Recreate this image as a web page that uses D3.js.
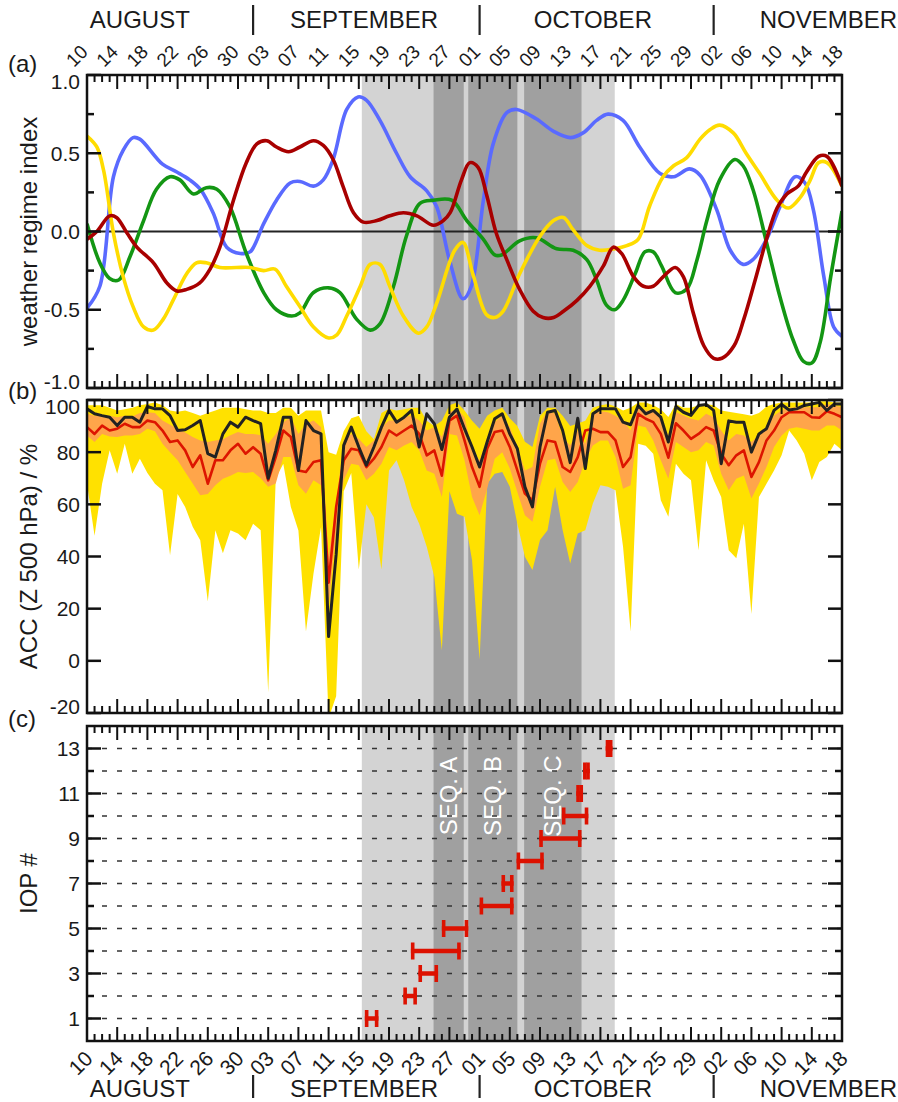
<!DOCTYPE html>
<html><head><meta charset="utf-8">
<script src="https://cdn.jsdelivr.net/npm/d3@7"></script>
<style>
body{margin:0;background:#fff}
svg{display:block}
text{font-family:"Liberation Sans",Arial,Helvetica,sans-serif;fill:#1a1a1a}
</style></head><body>
<svg id="chart" width="898" height="1102"></svg>
<script>
// ---------------- data ----------------
// days counted from 10 August
const dayTickLabels = ["10","14","18","22","26","30","03","07","11","15","19","23","27","01","05","09","13","17","21","25","29","02","06","10","14","18"];
const monthNames = ["AUGUST","SEPTEMBER","OCTOBER","NOVEMBER"];
const monthLabelDays = [7, 36.7, 67, 98.2];
const monthStartDays = [22, 52, 83];

const periodSpan = [36.4, 69.9];
const seqNames = ["SEQ. A","SEQ. B","SEQ. C"];
const seqStart = [45.9, 50.5, 57.9];
const seqEnd   = [49.9, 57.0, 65.5];

// (a) weather regime indices  [day, value]
const regimeBlue = [[0,-0.49],[1.7,-0.35],[3.5,0.35],[4.8,0.52],[6.1,0.60],[7,0.59],[10,0.43],[11.9,0.38],[13.6,0.33],[15,0.27],[16.7,0.12],[18.5,-0.10],[20.3,-0.14],[21.6,-0.13],[23.4,0.05],[25.1,0.20],[26.9,0.31],[28.2,0.32],[30,0.29],[31.3,0.33],[32.6,0.46],[34.4,0.78],[35.9,0.86],[37,0.84],[38.8,0.71],[41,0.50],[42.8,0.35],[45,0.26],[46.3,0.16],[48,-0.18],[49.8,-0.43],[50.9,-0.35],[52.5,0.20],[53.8,0.56],[55.6,0.76],[56.9,0.78],[59.5,0.72],[61.8,0.64],[64,0.60],[65.7,0.63],[67.5,0.71],[69,0.75],[71,0.71],[73.2,0.54],[75.9,0.37],[77.7,0.35],[79.8,0.40],[81.2,0.36],[83.4,0.14],[85.2,-0.12],[86.9,-0.21],[88.2,-0.18],[90,-0.05],[91.8,0.16],[93.8,0.35],[95.1,0.31],[96.2,0.14],[97.6,-0.29],[98.9,-0.61],[100,-0.67]];
const regimeGreen = [[0,0.05],[1.7,-0.20],[3,-0.30],[4.2,-0.31],[5.7,-0.16],[7.5,0.07],[9.2,0.27],[11,0.35],[12.3,0.33],[14.1,0.24],[15.8,0.28],[17.2,0.27],[18.9,0.16],[21.1,-0.14],[23.4,-0.39],[25.1,-0.50],[27.1,-0.54],[28.2,-0.52],[30,-0.39],[32,-0.36],[33.5,-0.39],[35.7,-0.56],[37.5,-0.63],[38.8,-0.59],[40.6,-0.35],[42.3,-0.03],[44.1,0.18],[45.9,0.20],[48.3,0.20],[50.3,0.07],[52.5,-0.05],[54,-0.15],[54.9,-0.15],[57.3,-0.06],[59.5,-0.04],[62.2,-0.11],[64.4,-0.12],[66.2,-0.18],[67.5,-0.31],[68.8,-0.47],[69.9,-0.50],[71,-0.44],[72.6,-0.27],[73.9,-0.13],[75,-0.13],[76.1,-0.22],[77.9,-0.39],[79.4,-0.37],[80.8,-0.18],[82.1,0.07],[83.8,0.33],[85.8,0.46],[86.9,0.42],[88.2,0.27],[90,-0.07],[91.8,-0.42],[93.5,-0.69],[94.9,-0.83],[96,-0.84],[97.1,-0.71],[98.5,-0.29],[100,0.13]];
const regimeYellow = [[0,0.61],[1.3,0.54],[2.2,0.39],[3.5,-0.01],[4.8,-0.29],[6.1,-0.48],[7.5,-0.61],[8.8,-0.63],[10.1,-0.56],[11.4,-0.44],[13.2,-0.27],[14.5,-0.20],[15.8,-0.20],[17.6,-0.23],[19.8,-0.23],[21.6,-0.23],[23.4,-0.25],[24.9,-0.24],[26.4,-0.35],[28.2,-0.48],[30,-0.61],[32,-0.68],[33.1,-0.66],[34.4,-0.54],[36.2,-0.35],[37.5,-0.21],[38.8,-0.21],[40.1,-0.35],[41.9,-0.54],[43.9,-0.65],[45,-0.61],[46.3,-0.46],[48.7,-0.12],[49.8,-0.07],[51.1,-0.27],[52.9,-0.53],[54,-0.55],[55.1,-0.51],[57.3,-0.27],[60,-0.03],[61.8,0.07],[63.1,0.09],[64.4,0.01],[66.2,-0.09],[67.9,-0.12],[69.9,-0.11],[71.5,-0.09],[73,-0.05],[74.5,0.16],[76.3,0.35],[77.7,0.42],[79.4,0.47],[81.2,0.59],[82.5,0.65],[83.8,0.68],[85.6,0.63],[87.3,0.50],[89.1,0.37],[91.4,0.20],[92.9,0.15],[94.5,0.22],[95.8,0.33],[96.9,0.44],[98,0.44],[100,0.29]];
const regimeRed = [[0,-0.05],[1.3,0],[3,0.10],[3.9,0.09],[5.3,-0.01],[6.6,-0.10],[8.8,-0.20],[10.6,-0.33],[11.9,-0.38],[13.2,-0.37],[14.9,-0.33],[16.3,-0.24],[17.6,-0.10],[19.4,0.20],[21.1,0.44],[22.5,0.56],[23.8,0.58],[25.1,0.54],[26.7,0.51],[28.2,0.54],[30,0.58],[31.3,0.55],[32.6,0.46],[33.9,0.29],[35.3,0.12],[36.6,0.06],[38.4,0.07],[40.1,0.10],[41.9,0.12],[43.7,0.10],[45.9,0.04],[47.2,0.07],[48.1,0.12],[49.6,0.33],[50.7,0.44],[51.8,0.41],[52.9,0.24],[54.2,-0.01],[55.6,-0.18],[57.3,-0.37],[59.1,-0.51],[60.4,-0.55],[61.8,-0.55],[63.1,-0.51],[64.9,-0.44],[66.6,-0.35],[68.4,-0.22],[69.7,-0.10],[70.8,-0.14],[72.4,-0.29],[73.7,-0.35],[75,-0.35],[76.3,-0.29],[77.9,-0.23],[79,-0.29],[80.3,-0.52],[81.7,-0.73],[83,-0.81],[84.1,-0.81],[85.7,-0.73],[87,-0.56],[88.5,-0.31],[90,-0.05],[91.4,0.15],[92.7,0.24],[94.2,0.29],[95.3,0.38],[96.9,0.48],[98,0.48],[100,0.29]];
const regimeTicks = [-1,-0.5,0,0.5,1];
const regimeTickLabels = ["-1.0","-0.5","0.0","0.5","1.0"];

// (b) ACC (Z 500 hPa) in %, one value per day (day 0 .. 100)
const accYellowHi = [98,98,98,97,96,96.5,97,98,98.5,99,98,96,95.5,96,95,94,95,96,97,97,97,96.5,96,96,95,
 95,97,97,94,96,96,96,80,79,88,93,94,88,85,95,96.6,96,96.5,97,97,92,90,92,98,
 99,96,92,89,94,96,97,93,90,84,82,94,97,97,94,90,91,92,97,98,98.5,97.5,96,97,99,99,
 98,96.5,93.5,98.5,97,97,98,98.5,98,96,95.5,95,94.5,94,95,97.5,98.5,99,99,99,99,99,99.5,99.5,99,99];
const accYellowLo = [67.9,48,67.9,80.7,71.7,83.2,71.7,77.5,72,67.9,65.4,40.5,64,59,51.4,46.2,22.7,50.1,41.2,50.1,48.8,46.2,52.6,50.1,-12,
 70,75.6,59,50,11.2,33.5,51.4,-22,-13.6,65,72,35,60,55,35,73,76.9,69.2,59,52.6,43.7,32.2,4,65,
 56.4,55.2,38.6,0.4,67.9,71.7,72.4,66.7,52.6,39.9,34.8,46.3,50.1,66.7,50.1,37.3,48.8,50.1,60.3,67.3,66.7,65.4,43.7,11.2,83.2,82.5,
 79.4,61.6,55.2,75.6,71.7,69.2,42.4,76.9,69.2,62.8,42.4,39.3,52.6,18,62.8,67.9,73,78.8,88.3,84.5,79.4,69.2,76.2,78.1,83.2,80.7];
const accOrangeHi = [94.7,94,94,94,93.4,94,93.7,95,95.3,95,92.1,90.5,89,87.5,85.8,84.5,83.9,84.5,85,86.5,87.7,87,87,86.5,83.2,
 87,91.5,93.4,87,90.9,92.1,89.6,40,60,84.5,87,85.1,82,84.5,89.6,92.1,92.1,93.4,94.1,92.1,88.3,89.6,85.8,95.3,
 96.6,93.4,80.7,76.9,85.1,91.5,94.1,89.6,82,73,74.3,90.9,96,94.7,85.8,82.6,88.3,83.2,94.7,95.7,95.3,94,92.1,88.3,97.9,96,
 96,92.8,86.4,95.3,94.1,92.8,92.1,94.7,93.4,88.3,84.5,87,86.4,83.9,86.4,89.6,94.1,96,97,97.2,97.2,97.2,97.2,98.5,97.9,97.2];
const accOrangeLo = [86.4,83.9,87,86,85.8,86.4,86.4,87,89,88,83.2,80,76.9,72.4,68,63.5,64,67.3,69.8,71,72.4,72,72.4,70,66.7,
 68,78.1,78.1,67.3,64.1,69.2,67.3,20.8,50.1,69.2,75.6,75,69.2,71.7,75.6,82,80.7,82.6,83.9,80.7,73,71.7,62.8,87,
 86.4,76.9,62.8,55.8,66,77.5,80,73.7,64.7,55.8,53.3,66.7,76.9,77.5,68.6,64.7,68.6,76.9,82.6,84.5,84.5,78.1,66,67.3,90.2,89.6,
 84.5,76.9,69.8,83.9,82,80,80.7,83.9,82.6,71.7,65.4,69.8,71.1,62.2,68,74.3,82,86.4,89,89.6,89,88.3,88.3,90.2,90.2,88.3];
const accRed = [89.6,87,90.2,88.3,89,90.9,89.6,89.6,92.1,91.5,88.3,83.9,84.5,80.7,74.3,78.8,67.9,76.9,76.9,80.7,83.2,79.4,81.9,79.4,69.2,
 78.1,88.3,85.8,73,72.4,76.2,76.9,30,59,76.9,81.3,80.7,74.3,77.5,82,88.3,86.4,88.3,90.2,87,78.8,80.7,71,92.1,
 94,84.5,74.3,66.7,81.3,87.7,88.3,82,73,64.1,61.6,75.6,84.5,83.9,74.3,72.4,78.1,88.3,89,87.7,87.7,84.5,74.3,78.1,94.7,92.8,
 91.5,87,77.9,91.1,88.3,85.1,87,89.6,88.3,79.4,75,78.8,80.7,70.5,76.2,84.5,88.3,93.4,95.3,95.3,95.3,93.4,93.2,95.7,94.7,93.4];
const accBlack = [96.6,94.7,94,93.4,90.2,93.4,93.4,91.5,97.5,96.6,96.6,94,88.3,88.6,90.2,92.1,79.4,78.1,87,91.5,89.6,93.4,92.1,90.9,70,
 80.7,93.4,93.4,73,92.1,88.3,87,9.3,40.8,82.6,89.6,82,75,82,89.6,96,91.5,93.4,96,82,94.7,90.9,81,93.4,
 96.5,89,82,74.3,83.9,92.8,94.7,87,81.3,66.7,59,82,95.3,96,88.3,76,93,73.7,94.7,96.6,96.6,96.6,91.5,90.5,97.9,94.7,
 96,93.4,83.9,97.5,95.3,94.1,97.9,98.3,96,75.6,92,91.5,91.5,80,87,89,96,98.3,96.2,96.6,97.9,98.5,99.1,96,98.5,98.5];
const accTicks = [-20,0,20,40,60,80,100];
const accTickLabels = ["-20","0","20","40","60","80","100"];

// (c) IOPs
const iopNumbers = [1,2,3,4,5,6,7,8,9,10,11,12,13];
const iopStart = [36.8,41.9,43.9,42.9,47.0,52.0,54.9,56.9,59.9,62.9,64.8,65.7,68.7];
const iopEnd   = [38.6,43.7,46.5,49.5,50.5,56.5,56.5,60.5,65.5,66.4,65.7,66.6,69.6];
const iopTicks = [1,3,5,7,9,11,13];
const iopTickLabels = ["1","3","5","7","9","11","13"];

// ---------------- drawing ----------------
const svg = d3.select("#chart");
const X0 = 87, X1 = 842;
const x = d3.scaleLinear().domain([0,100]).range([X0,X1]);
const P = {
  a:{top:75, bottom:388},
  b:{top:400, bottom:713},
  c:{top:726, bottom:1041}
};
const yA = d3.scaleLinear().domain([-1,1]).range([P.a.bottom,P.a.top]);
const yB = d3.scaleLinear().domain([-20,100]).range([P.b.bottom,P.b.top]);
const yC = d3.scaleLinear().domain([0,14]).range([P.c.bottom,P.c.top]);

const defs = svg.append("defs");
Object.entries(P).forEach(([k,p])=>{
  defs.append("clipPath").attr("id","clip"+k).append("rect")
    .attr("x",X0).attr("y",p.top).attr("width",X1-X0).attr("height",p.bottom-p.top);
});

function shading(g,p){
  g.append("rect").attr("x",x(periodSpan[0])).attr("y",p.top)
    .attr("width",x(periodSpan[1])-x(periodSpan[0])).attr("height",p.bottom-p.top).attr("fill","#d3d3d3");
  seqStart.forEach((s,i)=>{
    g.append("rect").attr("x",x(s)).attr("y",p.top)
      .attr("width",x(seqEnd[i])-x(s)).attr("height",p.bottom-p.top).attr("fill","#a0a0a0");
  });
}

function frameAndTicks(p, yScale, yMajor, yMinor){
  const g = svg.append("g");
  const days = d3.range(0,101);
  g.selectAll(".tt").data(days).join("line")
    .attr("x1",d=>x(d)).attr("x2",d=>x(d))
    .attr("y1",p.top).attr("y2",d=>p.top+(d%4===0?14:7))
    .attr("stroke","#111").attr("stroke-width",2);
  g.selectAll(".tb").data(days).join("line")
    .attr("x1",d=>x(d)).attr("x2",d=>x(d))
    .attr("y1",p.bottom).attr("y2",d=>p.bottom-(d%4===0?14:7))
    .attr("stroke","#111").attr("stroke-width",2);
  const yt = yMajor.map(v=>({v,len:14})).concat(yMinor.map(v=>({v,len:7})));
  g.selectAll(".yl").data(yt).join("line")
    .attr("x1",X0).attr("x2",d=>X0+d.len).attr("y1",d=>yScale(d.v)).attr("y2",d=>yScale(d.v))
    .attr("stroke","#111").attr("stroke-width",2.5);
  g.selectAll(".yr").data(yt).join("line")
    .attr("x1",X1).attr("x2",d=>X1-d.len).attr("y1",d=>yScale(d.v)).attr("y2",d=>yScale(d.v))
    .attr("stroke","#111").attr("stroke-width",2.5);
  g.append("rect").attr("x",X0).attr("y",p.top).attr("width",X1-X0).attr("height",p.bottom-p.top)
    .attr("fill","none").attr("stroke","#111").attr("stroke-width",2.5);
}

function yLabels(p, yScale, ticks, labels){
  svg.append("g").selectAll("text").data(ticks).join("text")
    .attr("x",80).attr("y",d=>Math.min(p.bottom-7, Math.max(p.top+6.5, yScale(d)))).attr("dy","0.36em")
    .attr("text-anchor","end").attr("font-size",21)
    .text((d,i)=>labels[i]);
}
function yTitle(p, txt){
  svg.append("text").attr("transform",`translate(37,${(p.top+p.bottom)/2}) rotate(-90)`)
    .attr("text-anchor","middle").attr("font-size",24).text(txt);
}

// ---------- panel a ----------
const gA = svg.append("g").attr("clip-path","url(#clipa)");
shading(gA,P.a);
gA.append("line").attr("x1",X0).attr("x2",X1).attr("y1",yA(0)).attr("y2",yA(0))
  .attr("stroke","#222").attr("stroke-width",2);
const lineA = d3.line().x(d=>x(d[0])).y(d=>yA(d[1])).curve(d3.curveCatmullRom.alpha(0.5));
[[regimeBlue,"#5a6aff"],[regimeGreen,"#139613"],[regimeYellow,"#ffdc00"],[regimeRed,"#a80000"]].forEach(([s,c])=>{
  gA.append("path").attr("d",lineA(s)).attr("fill","none").attr("stroke",c)
    .attr("stroke-width",3.6).attr("stroke-linejoin","round");
});
frameAndTicks(P.a, yA, regimeTicks, [-0.75,-0.25,0.25,0.75]);
yLabels(P.a, yA, regimeTicks, regimeTickLabels);
yTitle(P.a, "weather regime index");

// ---------- panel b ----------
const gB = svg.append("g").attr("clip-path","url(#clipb)");
shading(gB,P.b);
const dayIdx = d3.range(0,101);
gB.append("path").datum(dayIdx).attr("fill","#ffe100")
  .attr("d",d3.area().x(d=>x(d)).y0(d=>yB(accYellowLo[d])).y1(d=>yB(accYellowHi[d])));
gB.append("path").datum(dayIdx).attr("fill","#ffa54a")
  .attr("d",d3.area().x(d=>x(d)).y0(d=>yB(accOrangeLo[d])).y1(d=>yB(accOrangeHi[d])));
gB.append("path").datum(dayIdx).attr("fill","none").attr("stroke","#dd1500").attr("stroke-width",2.6)
  .attr("stroke-linejoin","round").attr("d",d3.line().x(d=>x(d)).y(d=>yB(accRed[d])));
gB.append("path").datum(dayIdx).attr("fill","none").attr("stroke","#222").attr("stroke-width",3)
  .attr("stroke-linejoin","round").attr("d",d3.line().x(d=>x(d)).y(d=>yB(accBlack[d])));
frameAndTicks(P.b, yB, accTicks, []);
yLabels(P.b, yB, accTicks, accTickLabels);
yTitle(P.b, "ACC (Z 500 hPa) / %");

// ---------- panel c ----------
const gC = svg.append("g").attr("clip-path","url(#clipc)");
shading(gC,P.c);
seqNames.forEach((n,i)=>{
  const cx = x((seqStart[i]+seqEnd[i])/2);
  gC.append("text").attr("transform",`translate(${cx},796) rotate(-90)`)
    .attr("text-anchor","middle").attr("dy","0.36em").attr("font-size",24)
    .style("fill","#ffffff").text(n);
});
gC.selectAll(".dash").data(d3.range(1,14)).join("line")
  .attr("x1",X0).attr("x2",X1).attr("y1",d=>yC(d)).attr("y2",d=>yC(d))
  .attr("stroke","#333").attr("stroke-width",1.6).attr("stroke-dasharray","5,10");
const capW = 3.6, capH = 17, barH = 4.5;
iopNumbers.forEach((n,i)=>{
  const xa = x(iopStart[i]), xb = x(iopEnd[i]), yy = yC(n);
  gC.append("rect").attr("x",xa).attr("y",yy-barH/2).attr("width",Math.max(0,xb-xa)).attr("height",barH).attr("fill","#dd1100");
  gC.append("rect").attr("x",xa).attr("y",yy-capH/2).attr("width",capW).attr("height",capH).attr("fill","#dd1100");
  gC.append("rect").attr("x",xb-capW).attr("y",yy-capH/2).attr("width",capW).attr("height",capH).attr("fill","#dd1100");
});
frameAndTicks(P.c, yC, iopTicks, [2,4,6,8,10,12]);
yLabels(P.c, yC, iopTicks, iopTickLabels);
yTitle(P.c, "IOP #");

// ---------- panel letters ----------
[["(a)",72],["(b)",399],["(c)",727]].forEach(([t,y])=>{
  svg.append("text").attr("x",8).attr("y",y).attr("font-size",24).text(t);
});

// ---------- date axes ----------
const majorDays = d3.range(0,101,4);
svg.append("g").selectAll("text").data(majorDays).join("text")
  .attr("transform",d=>`translate(${x(d)-13},68) rotate(-45)`)
  .attr("text-anchor","start").attr("font-size",19).text((d,i)=>dayTickLabels[i]);
svg.append("g").selectAll("text").data(majorDays).join("text")
  .attr("transform",d=>`translate(${x(d)+7},1060) rotate(-45)`)
  .attr("text-anchor","end").attr("font-size",21).text((d,i)=>dayTickLabels[i]);

[[28,5,35],[1097,1075,1098]].forEach(([by,s0,s1])=>{
  svg.append("g").selectAll("text").data(monthNames).join("text")
    .attr("x",(d,i)=>x(monthLabelDays[i])).attr("y",by)
    .attr("text-anchor","middle").attr("font-size",24).text(d=>d);
  svg.append("g").selectAll("line").data(monthStartDays).join("line")
    .attr("x1",d=>x(d)).attr("x2",d=>x(d)).attr("y1",s0).attr("y2",s1)
    .attr("stroke","#222").attr("stroke-width",2.2);
});
</script>
</body></html>
